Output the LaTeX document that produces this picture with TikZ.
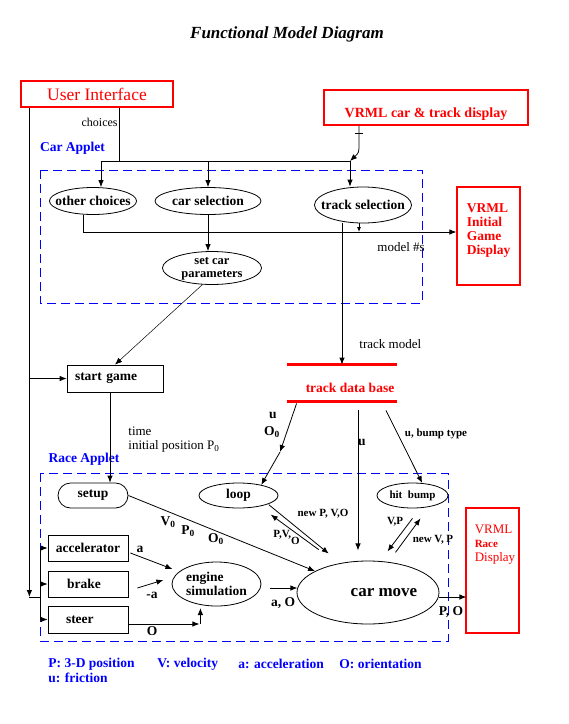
\documentclass[tikz,border=0pt]{standalone}
\usepackage{fontspec}
\setmainfont{Liberation Serif}
\usetikzlibrary{arrows.meta,shapes.geometric,positioning}
\tikzset{
  lbl/.style={font=\bfseries\fontsize{13.5}{14}\selectfont, inner sep=0},
  sml/.style={font=\bfseries\fontsize{11}{12}\selectfont, inner sep=0},
  rgl/.style={font=\fontsize{13}{14}\selectfont, inner sep=0},
  elp/.style={ellipse, draw, inner sep=0},
  txt/.style={label={[lbl, align=center]center:#1}},
  bx/.style={rectangle, draw, inner sep=0, lbl},
  rbox/.style={rectangle, draw=red, line width=1.2pt, text=red, inner sep=0},
  applet/.style={draw=blue, line width=.9pt, dash pattern=on 9pt off 5pt},
  appname/.style={lbl, text=blue},
  dbline/.style={draw=red, line width=3.5pt},
  smallarr/.style={-{Latex[length=5pt,width=4pt]}}
}
\begin{document}
\begin{tikzpicture}[x=1pt,y=-1pt,line width=.8pt,>={Latex[length=7pt,width=5.5pt]}]
\path[fill=white] (0,0) rectangle (569,724);
\node[font=\bfseries\itshape\fontsize{17}{18}\selectfont] (title) at (287,34) {Functional Model Diagram};
% outer boxes
\node[rbox, minimum width=152, minimum height=26, font=\fontsize{17.5}{18}\selectfont] (ui) at (97,94) {User Interface};
\node[rbox, minimum width=204, minimum height=35, font=\bfseries\fontsize{14}{15}\selectfont, text height=19pt, text depth=0pt] (vrmlct) at (426,107.5) {VRML car \& track display};
\node[rbox, minimum width=63, minimum height=98, label={[lbl, text=red, align=left, anchor=north west, xshift=10pt, yshift=-17pt]north west:VRML\\Initial\\Game\\Display}] (vrmlig) at (488.5,236) {};
\node[rbox, minimum width=53, minimum height=125, label={[rgl, text=red, align=left, anchor=north west, xshift=9pt, yshift=-17pt]north west:VRML\\{\bfseries\fontsize{11}{13}\selectfont Race}\\Display}] (vrmlrd) at (492.5,570.5) {};
% car applet
\draw[applet] (40,170) rectangle (422,303);
\node[appname] (carapp) at (72.5,148) {Car Applet};
\node[elp, txt=other choices, minimum width=87, minimum height=27] (othch) at (93,201) {};
\node[elp, txt=car selection, minimum width=106, minimum height=27] (carsel) at (208,201) {};
\node[elp, txt=track selection, minimum width=97, minimum height=36] (trksel) at (363,205) {};
\node[elp, minimum width=99, minimum height=33, label={[lbl, align=center, font=\bfseries\fontsize{12.5}{13}\selectfont, yshift=-1pt]center:set car\\parameters}] (setcar) at (212,268) {};
\node[bx, minimum width=96, minimum height=27, text width=80, align=left] (startg) at (115,378.5) {start game};
\node[lbl, text=red, minimum width=110, minimum height=36, text height=18pt, text depth=0pt] (tdb) at (342,383) {\hspace*{16pt}track data base};
\draw[dbline] (tdb.north west) -- (tdb.north east) (tdb.south west) -- (tdb.south east);
% race applet
\draw[applet] (40,473) rectangle (448,641);
\node[appname] (raceapp) at (84,459) {Race Applet};
\node[bx, rounded corners=12.5pt, minimum width=70, minimum height=25] (setup) at (93,495.5) {setup};
\node[elp, txt=loop, minimum width=79, minimum height=25] (loop) at (238.5,495.5) {};
\node[elp, minimum width=71, minimum height=25, label={[sml]center:hit~~bump}] (hitbump) at (412.5,495.5) {};
\node[elp, minimum width=142, minimum height=63, label={[font=\bfseries\fontsize{17}{18}\selectfont, inner sep=0, xshift=16pt]center:car move}] (carmove) at (368,592.5) {};
\node[elp, minimum width=89, minimum height=44, label={[lbl, align=left]center:engine\\simulation}] (engine) at (216.5,584) {};
\node[bx, minimum width=80, minimum height=26] (accel) at (88,548) {accelerator};
\node[bx, minimum width=80, minimum height=26, text width=42, align=left] (brake) at (88,584) {brake};
\node[bx, minimum width=80, minimum height=27, text width=44, align=left] (steer) at (88,619.5) {steer};
% user interface lines
\coordinate (uiL) at ([shift={(9,0)}]ui.south west);
\coordinate (bus) at (40,597);
\draw[->] (uiL) -- (uiL |- bus);
\draw (uiL |- bus) -- (bus);
\draw (bus |- accel.west) -- (bus |- steer.west);
\foreach \b in {accel,brake,steer} \draw[->] (bus |- \b.west) -- (\b.west);
\draw[->] (uiL |- startg.west) -- (startg.west);
\coordinate (split) at (119,161);
\coordinate (s1) at (101,161);
\coordinate (s3) at (350,161);
\draw (ui.south -| split) -- (split);
\node[rgl, font=\fontsize{12}{13}\selectfont, anchor=east] (chl) at (118,122) {choices};
\draw (s1) -- (s3);
\draw[->] (s1) -- (s1 |- othch.north);
\draw[->] (carsel.north |- s1) -- (carsel.north);
\draw[->] (s3) -- (s3 |- trksel.north);
\coordinate (vd) at ([shift={(-67,0)}]vrmlct.south);
\draw[->] (vd) -- ++(0,18) .. controls ++(0,9) .. (s3);
\draw (vd) ++(-4,8) -- ++(8,0);
% car applet lines
\coordinate (mj) at (83,232);
\draw[->] (othch.south -| mj) -- (mj) -- (mj -| vrmlig.west);
\node[rgl, anchor=west] (msl) at (377,247) {model \#s};
\draw[->] (carsel.south) -- (carsel.south |- setcar.north);
\coordinate (tk) at ([shift={(-4,0)}]trksel.south);
\draw[smallarr] (tk) -- (tk |- mj);
\draw[->] (trksel.south -| tdb.north) -- (tdb.north);
\node[rgl, anchor=west] (tml) at (359,344) {track model};
\draw[->, line width=.5pt] (setcar.240) -- (startg.north);
\coordinate (sg) at ([shift={(-5,0)}]startg.south);
\draw[->] (sg) -- (sg |- setup.north);
\node[rgl, anchor=west, align=left] (tpl) at (128,440) {time\\initial position P\textsubscript{0}};
% track data base lines
\coordinate (lm) at (280,452);
\draw[->] ([shift={(10,2)}]tdb.south west) -- (lm);
\draw[->] (lm) -- (loop.25);
\node[lbl] (ul) at (273,415) {u};
\node[lbl] (ol) at (272,432) {O\textsubscript{0}};
\draw[->] ([shift={(16,9)}]tdb.south) -- ++(0,140);
\node[lbl] (ucl) at (362,442) {u};
\draw[->] ([shift={(44,9)}]tdb.south) -- (hitbump.52);
\node[sml] (ubl) at (436,434) {u, bump type};
% race applet lines
\draw[->] ([shift={(2,0)}]loop.south east) -- ++(60,49);
\draw[->] ([shift={(52,45)}]loop.south east) -- ++(-48,-35);
\node[sml] (npl) at (323,514) {new P, V,O};
\node[sml, anchor=base west] (pvl) at (273,537) {P,V,\raisebox{-7pt}{O}};
\draw[->] ([shift={(0,10)}]hitbump.south) -- ++(-25,33);
\draw[->] ([shift={(-17,44)}]hitbump.south) -- ++(25,-34);
\node[sml] (vpl) at (395,522) {V,P};
\node[sml] (nvl) at (433,540) {new V, P};
\draw[->] (setup.east) -- (carmove.158);
\node[lbl] (v0) at (168,522) {V\textsubscript{0}};
\node[lbl] (p0) at (188,531) {P\textsubscript{0}};
\node[lbl] (o0) at (216,539) {O\textsubscript{0}};
\draw[->] ([shift={(2,5)}]accel.east) -- ++(42,16);
\node[lbl] (al) at (140,549) {a};
\draw[->] ([shift={(9,4)}]brake.east) -- ++(26,-8);
\node[lbl] (mal) at (152,595) {-a};
\draw[->] ([shift={(0,4.5)}]steer.east) -- ++(71,0);
\draw[->] ([shift={(72,4.5)}]steer.east) -- ++(0,-16);
\node[lbl] (stl) at (152,631) {O};
\draw[->] ([shift={(9,4)}]engine.east) -- ++(27,0);
\node[lbl] (aol) at (283,603) {a, O};
\draw[->] ([shift={(0,4.5)}]carmove.east) -- ++(27,0);
\node[lbl] (pol) at (451,612) {P, O};
% legend
\node[appname, anchor=west] (lg1) at (48,664) {P: 3-D position};
\node[appname, anchor=west] (lg2) at (157,664) {V: velocity};
\node[appname, anchor=west] (lg3) at (238,664) {a: acceleration};
\node[appname, anchor=west] (lg4) at (339,664) {O: orientation};
\node[appname, anchor=west] (lg5) at (48,678) {u: friction};
\end{tikzpicture}
\end{document}
